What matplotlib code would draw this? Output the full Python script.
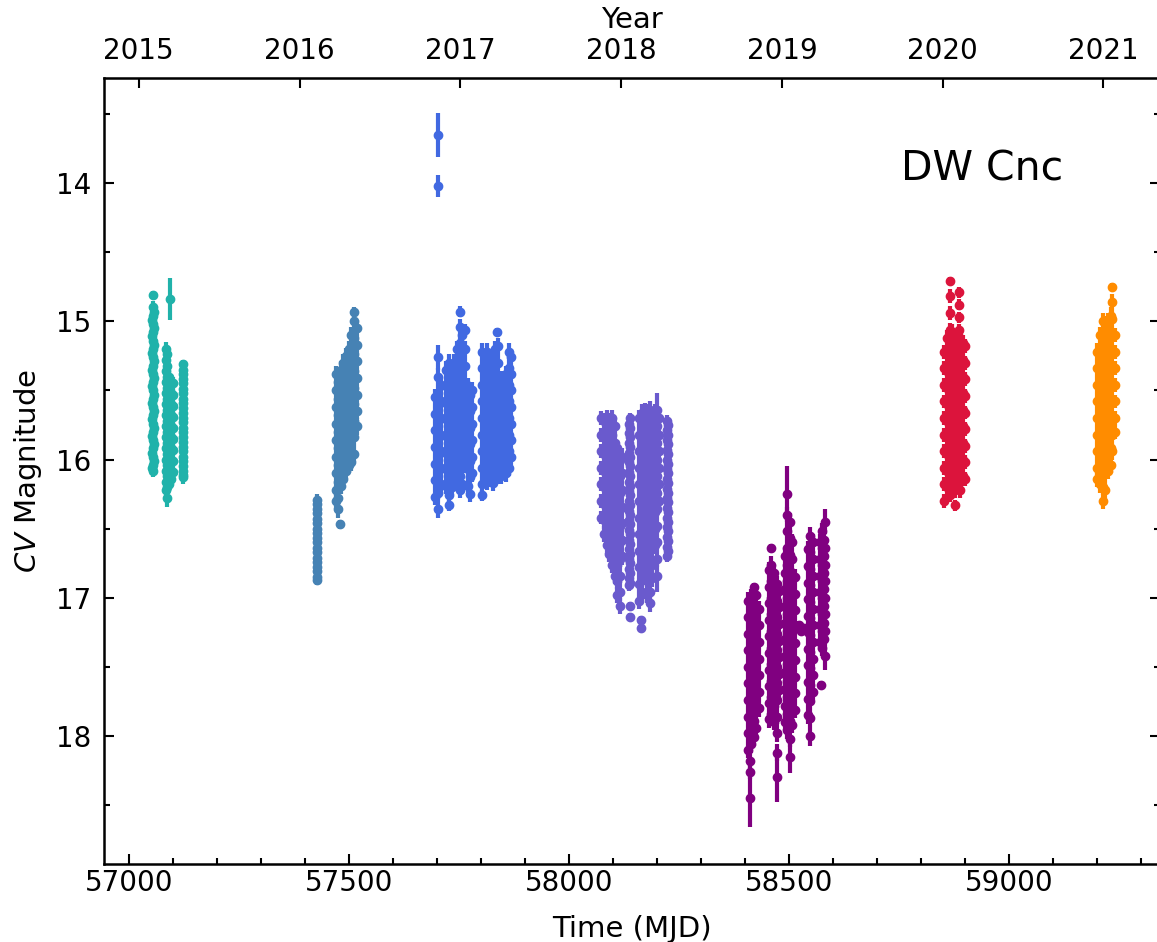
import numpy as np
import matplotlib.pyplot as plt

# each entry: (MJD of the night, magnitudes that night, typical error)
nights_2015 = [
    (57056, [14.81], 0.03),
    (57056, [14.90, 15.02, 15.14, 15.26, 15.38, 15.50, 15.62, 15.74, 15.86, 15.98, 16.08], 0.05),
    (57055, [14.96, 15.08, 15.20, 15.32, 15.44, 15.56, 15.68, 15.80, 15.92, 16.04], 0.05),
    (57057, [14.93, 15.05, 15.17, 15.29, 15.41, 15.53, 15.65, 15.77, 15.89, 16.01], 0.05),
    (57054, [14.99, 15.11, 15.23, 15.35, 15.47, 15.59, 15.71, 15.83, 15.95, 16.06], 0.05),
    (57093, [14.84], 0.15),
    (57084, [15.20, 15.28, 15.36, 15.44, 15.52, 15.60, 15.68, 15.76, 15.84, 15.92, 16.00, 16.08, 16.16, 16.22], 0.05),
    (57088, [15.24, 15.32, 15.40, 15.48, 15.56, 15.64, 15.72, 15.80, 15.88, 15.96, 16.04, 16.12, 16.20], 0.05),
    (57086, [16.28], 0.06),
    (57092, [15.40, 15.48, 15.56, 15.64, 15.72, 15.80, 15.88, 15.96, 16.04, 16.12, 16.18], 0.05),
    (57096, [15.44, 15.52, 15.60, 15.68, 15.76, 15.84, 15.92, 16.00, 16.08, 16.14], 0.05),
    (57100, [15.45, 15.53, 15.61, 15.69, 15.77, 15.85, 15.93, 16.01, 16.09], 0.05),
    (57124, [15.31], 0.03),
    (57124, [15.38, 15.45, 15.52, 15.59, 15.66, 15.73, 15.80, 15.87, 15.94, 16.01, 16.08, 16.13], 0.05),
    (57123, [15.35, 15.42, 15.49, 15.56, 15.63, 15.70, 15.77, 15.84, 15.91, 15.98, 16.05, 16.11], 0.05),
]

nights_2016 = [
    (57428, [16.29, 16.36, 16.43, 16.50, 16.57, 16.64, 16.71, 16.78, 16.85], 0.04),
    (57427, [16.32, 16.39, 16.46, 16.53, 16.60, 16.67, 16.74, 16.81, 16.87], 0.04),
    (57470, [15.38, 15.50, 15.62, 15.74, 15.86, 15.98, 16.10, 16.22, 16.30], 0.06),
    (57476, [15.44, 15.56, 15.68, 15.80, 15.92, 16.04, 16.16, 16.28, 16.36], 0.06),
    (57481, [16.47], 0.03),
    (57482, [15.35, 15.47, 15.59, 15.71, 15.83, 15.95, 16.07, 16.19], 0.06),
    (57488, [15.30, 15.42, 15.54, 15.66, 15.78, 15.90, 16.02, 16.14], 0.06),
    (57494, [15.25, 15.37, 15.49, 15.61, 15.73, 15.85, 15.97, 16.08], 0.06),
    (57500, [15.20, 15.32, 15.44, 15.56, 15.68, 15.80, 15.92, 16.04], 0.06),
    (57506, [15.10, 15.22, 15.34, 15.46, 15.58, 15.70, 15.82, 15.94, 16.02], 0.06),
    (57512, [14.93], 0.03),
    (57512, [15.00, 15.12, 15.24, 15.36, 15.48, 15.60, 15.72, 15.84, 15.96], 0.06),
    (57518, [15.05, 15.17, 15.29, 15.41, 15.53, 15.65, 15.76], 0.06),
]

nights_2017 = [
    (57703, [13.65], 0.16),
    (57703, [14.02], 0.08),
    (57696, [15.55, 15.67, 15.79, 15.91, 16.03, 16.15, 16.27], 0.06),
    (57703, [15.26], 0.09),
    (57703, [15.40, 15.52, 15.64, 15.76, 15.88, 16.00, 16.12, 16.24], 0.06),
    (57703, [16.36], 0.06),
    (57709, [15.46, 15.58, 15.70, 15.82, 15.94, 16.06, 16.18], 0.06),
    (57722, [15.35, 15.47, 15.59, 15.71, 15.83, 15.95, 16.07, 16.19], 0.06),
    (57728, [15.30, 15.42, 15.54, 15.66, 15.78, 15.90, 16.02, 16.14, 16.26], 0.06),
    (57728, [16.33], 0.04),
    (57734, [15.36, 15.48, 15.60, 15.72, 15.84, 15.96, 16.08, 16.20], 0.06),
    (57740, [15.30, 15.42, 15.54, 15.66, 15.78, 15.90, 16.02, 16.14], 0.06),
    (57746, [15.20, 15.32, 15.44, 15.56, 15.68, 15.80, 15.92, 16.04, 16.16], 0.06),
    (57752, [14.93], 0.04),
    (57752, [15.04, 15.16, 15.28, 15.40, 15.52, 15.64, 15.76, 15.88, 16.00, 16.12, 16.22], 0.06),
    (57758, [15.10, 15.22, 15.34, 15.46, 15.58, 15.70, 15.82, 15.94, 16.06, 16.18], 0.06),
    (57764, [15.06], 0.04),
    (57764, [15.20, 15.32, 15.44, 15.56, 15.68, 15.80, 15.92, 16.04], 0.06),
    (57770, [15.47, 15.59, 15.71, 15.83, 15.95, 16.07, 16.19], 0.06),
    (57776, [15.53, 15.65, 15.77, 15.89, 16.01, 16.13, 16.25], 0.06),
    (57780, [15.50, 15.62, 15.74, 15.86, 15.98, 16.10], 0.06),
    (57803, [15.22, 15.34, 15.46, 15.58, 15.70, 15.82, 15.94, 16.06, 16.18], 0.06),
    (57803, [16.26], 0.04),
    (57809, [15.28, 15.40, 15.52, 15.64, 15.76, 15.88, 16.00, 16.12], 0.06),
    (57815, [15.22, 15.34, 15.46, 15.58, 15.70, 15.82, 15.94, 16.06, 16.16], 0.06),
    (57821, [15.30, 15.42, 15.54, 15.66, 15.78, 15.90, 16.02, 16.14], 0.06),
    (57827, [15.25, 15.37, 15.49, 15.61, 15.73, 15.85, 15.97, 16.09, 16.17], 0.06),
    (57833, [15.20, 15.32, 15.44, 15.56, 15.68, 15.80, 15.92, 16.04], 0.06),
    (57837, [15.08], 0.03),
    (57839, [15.18, 15.30, 15.42, 15.54, 15.66, 15.78, 15.90, 16.02, 16.12], 0.06),
    (57845, [15.42, 15.54, 15.66, 15.78, 15.90, 16.02, 16.12], 0.06),
    (57851, [15.45, 15.57, 15.69, 15.81, 15.93, 16.05], 0.06),
    (57857, [15.38, 15.50, 15.62, 15.74, 15.86, 15.98, 16.10], 0.06),
    (57863, [15.22, 15.34, 15.46, 15.58, 15.70, 15.82, 15.94, 16.06], 0.06),
    (57869, [15.26, 15.38, 15.50, 15.62, 15.74, 15.86, 15.98], 0.06),
]

nights_2018 = [
    (58074, [15.70, 15.82, 15.94, 16.06, 16.18, 16.30, 16.42], 0.05),
    (58080, [15.72, 15.84, 15.96, 16.08, 16.20, 16.32, 16.44, 16.54], 0.06),
    (58086, [15.70, 15.82, 15.94, 16.06, 16.18, 16.30, 16.42, 16.54, 16.62], 0.06),
    (58092, [15.72, 15.84, 15.96, 16.08, 16.20, 16.32, 16.44, 16.56, 16.68], 0.06),
    (58098, [15.70, 15.82, 15.94, 16.06, 16.18, 16.30, 16.42, 16.54, 16.66, 16.76], 0.06),
    (58104, [15.76, 15.88, 16.00, 16.12, 16.24, 16.36, 16.48, 16.60, 16.72, 16.84], 0.06),
    (58110, [15.92, 16.04, 16.16, 16.28, 16.40, 16.52, 16.64, 16.76, 16.88, 16.98], 0.06),
    (58116, [16.00, 16.12, 16.24, 16.36, 16.48, 16.60, 16.72, 16.84, 16.96, 17.06], 0.06),
    (58121, [15.98, 16.10, 16.22, 16.34, 16.46, 16.58, 16.70], 0.06),
    (58138, [15.70, 15.77, 15.84, 15.91, 15.98, 16.05, 16.12, 16.19, 16.26, 16.33, 16.40,
             16.47, 16.54, 16.61, 16.68, 16.75, 16.82, 16.89], 0.04),
    (58137, [15.74, 15.81, 15.88, 15.95, 16.02, 16.09, 16.16, 16.23, 16.30, 16.37, 16.44,
             16.51, 16.58, 16.65, 16.72, 16.79, 16.86, 16.91], 0.04),
    (58138, [17.06, 17.14], 0.03),
    (58160, [15.70, 15.82, 15.94, 16.06, 16.18, 16.30, 16.42, 16.54, 16.66, 16.78, 16.90, 17.02], 0.06),
    (58163, [17.16, 17.22], 0.03),
    (58166, [15.66, 15.78, 15.90, 16.02, 16.14, 16.26, 16.38, 16.50, 16.62, 16.74, 16.86, 16.96], 0.06),
    (58172, [15.65, 15.77, 15.89, 16.01, 16.13, 16.25, 16.37, 16.49, 16.61, 16.73, 16.85], 0.06),
    (58178, [15.66, 15.78, 15.90, 16.02, 16.14, 16.26, 16.38, 16.50, 16.62, 16.74, 16.86, 16.98], 0.06),
    (58184, [15.64, 15.76, 15.88, 16.00, 16.12, 16.24, 16.36, 16.48, 16.60, 16.72, 16.84, 16.96, 17.04], 0.06),
    (58190, [15.68, 15.80, 15.92, 16.04, 16.16, 16.28, 16.40, 16.52, 16.64, 16.76, 16.86], 0.06),
    (58196, [15.66, 15.78, 15.90, 16.02, 16.14, 16.26, 16.38, 16.50, 16.62], 0.06),
    (58201, [15.64], 0.12),
    (58201, [15.76, 15.88, 16.00, 16.12, 16.24, 16.36, 16.48, 16.60, 16.72], 0.06),
    (58201, [16.84], 0.12),
    (58205, [15.70, 15.82, 15.94, 16.06, 16.18, 16.30], 0.06),
    (58224, [15.72, 15.79, 15.86, 15.93, 16.00, 16.07, 16.14, 16.21, 16.28, 16.35, 16.42,
             16.49, 16.56, 16.63, 16.70], 0.04),
    (58225, [15.75, 15.82, 15.89, 15.96, 16.03, 16.10, 16.17, 16.24, 16.31, 16.38, 16.45,
             16.52, 16.59, 16.66], 0.04),
]

nights_2019 = [
    (58408, [17.02, 17.14, 17.26, 17.38, 17.50, 17.62, 17.74, 17.86, 17.98, 18.10], 0.06),
    (58411, [18.18, 18.26], 0.05),
    (58412, [18.45], 0.21),
    (58414, [17.00, 17.12, 17.24, 17.36, 17.48, 17.60, 17.72, 17.84, 17.96, 18.06], 0.06),
    (58420, [16.92], 0.03),
    (58420, [17.05, 17.17, 17.29, 17.41, 17.53, 17.65, 17.77, 17.89, 18.01], 0.06),
    (58426, [16.98, 17.10, 17.22, 17.34, 17.46, 17.58, 17.70, 17.82, 17.94], 0.06),
    (58431, [17.08, 17.20, 17.32, 17.44, 17.56, 17.68, 17.80], 0.06),
    (58454, [16.80, 16.92, 17.04, 17.16, 17.28, 17.40, 17.52, 17.64, 17.76, 17.88], 0.06),
    (58460, [16.64], 0.03),
    (58460, [16.76, 16.88, 17.00, 17.12, 17.24, 17.36, 17.48, 17.60, 17.72, 17.84], 0.06),
    (58466, [16.82, 16.94, 17.06, 17.18, 17.30, 17.42, 17.54, 17.66, 17.78, 17.90], 0.06),
    (58472, [16.90, 17.02, 17.14, 17.26, 17.38, 17.50, 17.62, 17.74, 17.86, 17.98, 18.12], 0.06),
    (58472, [18.30], 0.18),
    (58477, [16.95, 17.07, 17.19, 17.31, 17.43, 17.55, 17.67], 0.06),
    (58490, [16.70, 16.82, 16.94, 17.06, 17.18, 17.30, 17.42, 17.54, 17.66, 17.78, 17.90], 0.06),
    (58496, [16.25], 0.20),
    (58496, [16.40, 16.52, 16.64, 16.76, 16.88, 17.00, 17.12, 17.24, 17.36, 17.48, 17.60,
             17.72, 17.84, 17.96], 0.06),
    (58502, [16.45, 16.57, 16.69, 16.81, 16.93, 17.05, 17.17, 17.29, 17.41, 17.53, 17.65,
             17.77, 17.89, 18.02], 0.06),
    (58502, [18.15], 0.12),
    (58508, [16.60, 16.72, 16.84, 16.96, 17.08, 17.20, 17.32, 17.44, 17.56, 17.68, 17.80, 17.92], 0.06),
    (58514, [16.85, 16.97, 17.09, 17.21, 17.33, 17.45, 17.57, 17.69, 17.81], 0.06),
    (58522, [17.20], 0.03),
    (58528, [17.24], 0.03),
    (58534, [17.22], 0.03),
    (58543, [16.65, 16.77, 16.89, 17.01, 17.13, 17.25, 17.37, 17.49, 17.61, 17.73, 17.85], 0.06),
    (58549, [16.55, 16.67, 16.79, 16.91, 17.03, 17.15, 17.27, 17.39, 17.51, 17.63, 17.75, 17.87], 0.06),
    (58549, [18.00], 0.07),
    (58555, [16.60, 16.72, 16.84, 16.96, 17.08, 17.20, 17.32, 17.44, 17.56, 17.68], 0.06),
    (58570, [16.60, 16.72, 16.84, 16.96, 17.08, 17.20, 17.32], 0.06),
    (58572, [17.63], 0.03),
    (58576, [16.52, 16.64, 16.76, 16.88, 17.00, 17.12, 17.24, 17.36], 0.06),
    (58579, [16.58, 16.70, 16.82, 16.94, 17.06, 17.18, 17.30], 0.06),
    (58582, [16.45], 0.09),
    (58582, [16.64, 16.76, 16.88, 17.00, 17.12, 17.24], 0.06),
    (58582, [17.42], 0.10),
]

nights_2020 = [
    (58853, [15.22, 15.34, 15.46, 15.58, 15.70, 15.82, 15.94, 16.06, 16.18, 16.30], 0.05),
    (58859, [15.12, 15.24, 15.36, 15.48, 15.60, 15.72, 15.84, 15.96, 16.08, 16.20], 0.06),
    (58865, [14.71], 0.03),
    (58865, [14.82, 14.94, 15.06, 15.18, 15.30, 15.42, 15.54, 15.66, 15.78, 15.90, 16.02,
             16.14, 16.26], 0.05),
    (58871, [15.08, 15.20, 15.32, 15.44, 15.56, 15.68, 15.80, 15.92, 16.04, 16.16], 0.06),
    (58877, [15.14, 15.26, 15.38, 15.50, 15.62, 15.74, 15.86, 15.98, 16.10, 16.22], 0.06),
    (58877, [16.33], 0.04),
    (58883, [15.10, 15.22, 15.34, 15.46, 15.58, 15.70, 15.82, 15.94, 16.06, 16.18], 0.06),
    (58887, [14.79, 14.88, 14.97, 15.06], 0.04),
    (58889, [15.14, 15.26, 15.38, 15.50, 15.62, 15.74, 15.86, 15.98, 16.10, 16.22], 0.06),
    (58895, [15.16, 15.28, 15.40, 15.52, 15.64, 15.76, 15.88, 16.00, 16.12], 0.06),
    (58901, [15.18, 15.30, 15.42, 15.54, 15.66, 15.78, 15.90, 16.02, 16.14], 0.05),
]

nights_2021 = [
    (59201, [15.22, 15.34, 15.46, 15.58, 15.70, 15.82, 15.94, 16.06, 16.14], 0.06),
    (59207, [15.10, 15.22, 15.34, 15.46, 15.58, 15.70, 15.82, 15.94, 16.06, 16.18], 0.06),
    (59213, [15.00, 15.12, 15.24, 15.36, 15.48, 15.60, 15.72, 15.84, 15.96, 16.08, 16.20, 16.30], 0.06),
    (59219, [15.02, 15.14, 15.26, 15.38, 15.50, 15.62, 15.74, 15.86, 15.98, 16.10, 16.22], 0.06),
    (59225, [15.00, 15.12, 15.24, 15.36, 15.48, 15.60, 15.72, 15.84, 15.96, 16.08], 0.06),
    (59231, [14.96, 15.08, 15.20, 15.32, 15.44, 15.56, 15.68, 15.80, 15.92, 16.04], 0.06),
    (59235, [14.75], 0.03),
    (59235, [14.86, 14.98, 15.10, 15.22, 15.34, 15.46, 15.58, 15.70, 15.82, 15.94], 0.06),
    (59240, [15.10, 15.22, 15.34, 15.46, 15.58, 15.70, 15.80], 0.05),
]

seasons = [nights_2015, nights_2016, nights_2017, nights_2018, nights_2019, nights_2020, nights_2021]
colors = ['lightseagreen', 'steelblue', 'royalblue', 'slateblue', 'purple', 'crimson', 'darkorange']
year_ticks = [2015, 2016, 2017, 2018, 2019, 2020, 2021]


def mjd2year(mjd):
    return 2015.0 + (np.asarray(mjd) - 57023.0) / 365.25


def year2mjd(yr):
    return 57023.0 + (np.asarray(yr) - 2015.0) * 365.25


plt.rcParams['font.family'] = 'DejaVu Sans'
fig = plt.figure(figsize=(11.57, 9.42), dpi=100)
ax = fig.add_axes([104 / 1157, 1 - 864 / 942, (1160 - 104) / 1157, (864 - 78) / 942])

for nights, col in zip(seasons, colors):
    t, m, e = [], [], []
    for mjd, mags, err in nights:
        for mag in mags:
            t.append(mjd)
            m.append(mag)
            e.append(err)
    ax.errorbar(t, m, yerr=e, fmt='o', color=col, ms=6, elinewidth=3, capsize=0)

ax.set_xlim(56944, 59343)
ax.set_ylim(18.926, 13.24)
ax.set_xticks([57000, 57500, 58000, 58500, 59000])
ax.set_xticks(np.arange(57000, 59301, 100), minor=True)
ax.set_yticks([14, 15, 16, 17, 18])
ax.set_yticks(np.arange(13.5, 18.91, 0.5), minor=True)
ax.tick_params(which='both', direction='in', top=False, right=True, labelsize=20, width=1.5)
ax.tick_params(which='major', length=7)
ax.tick_params(which='minor', length=4)
ax.tick_params(axis='y', pad=9)
for sp in ax.spines.values():
    sp.set_linewidth(1.8)

ax.set_xlabel('Time (MJD)', fontsize=21, labelpad=13)
ax.set_ylabel(r'$CV$ Magnitude', fontsize=21, labelpad=9)

secax = ax.secondary_xaxis('top', functions=(mjd2year, year2mjd))
secax.set_xticks(year_ticks)
secax.minorticks_off()
secax.tick_params(direction='in', length=7, width=1.5, labelsize=20, pad=9)
secax.set_xlabel('Year', fontsize=21, labelpad=7)

ax.text(0.755, 0.883, 'DW Cnc', transform=ax.transAxes, fontsize=29.5, ha='left', va='center')

fig.savefig('out.png', dpi=100)
